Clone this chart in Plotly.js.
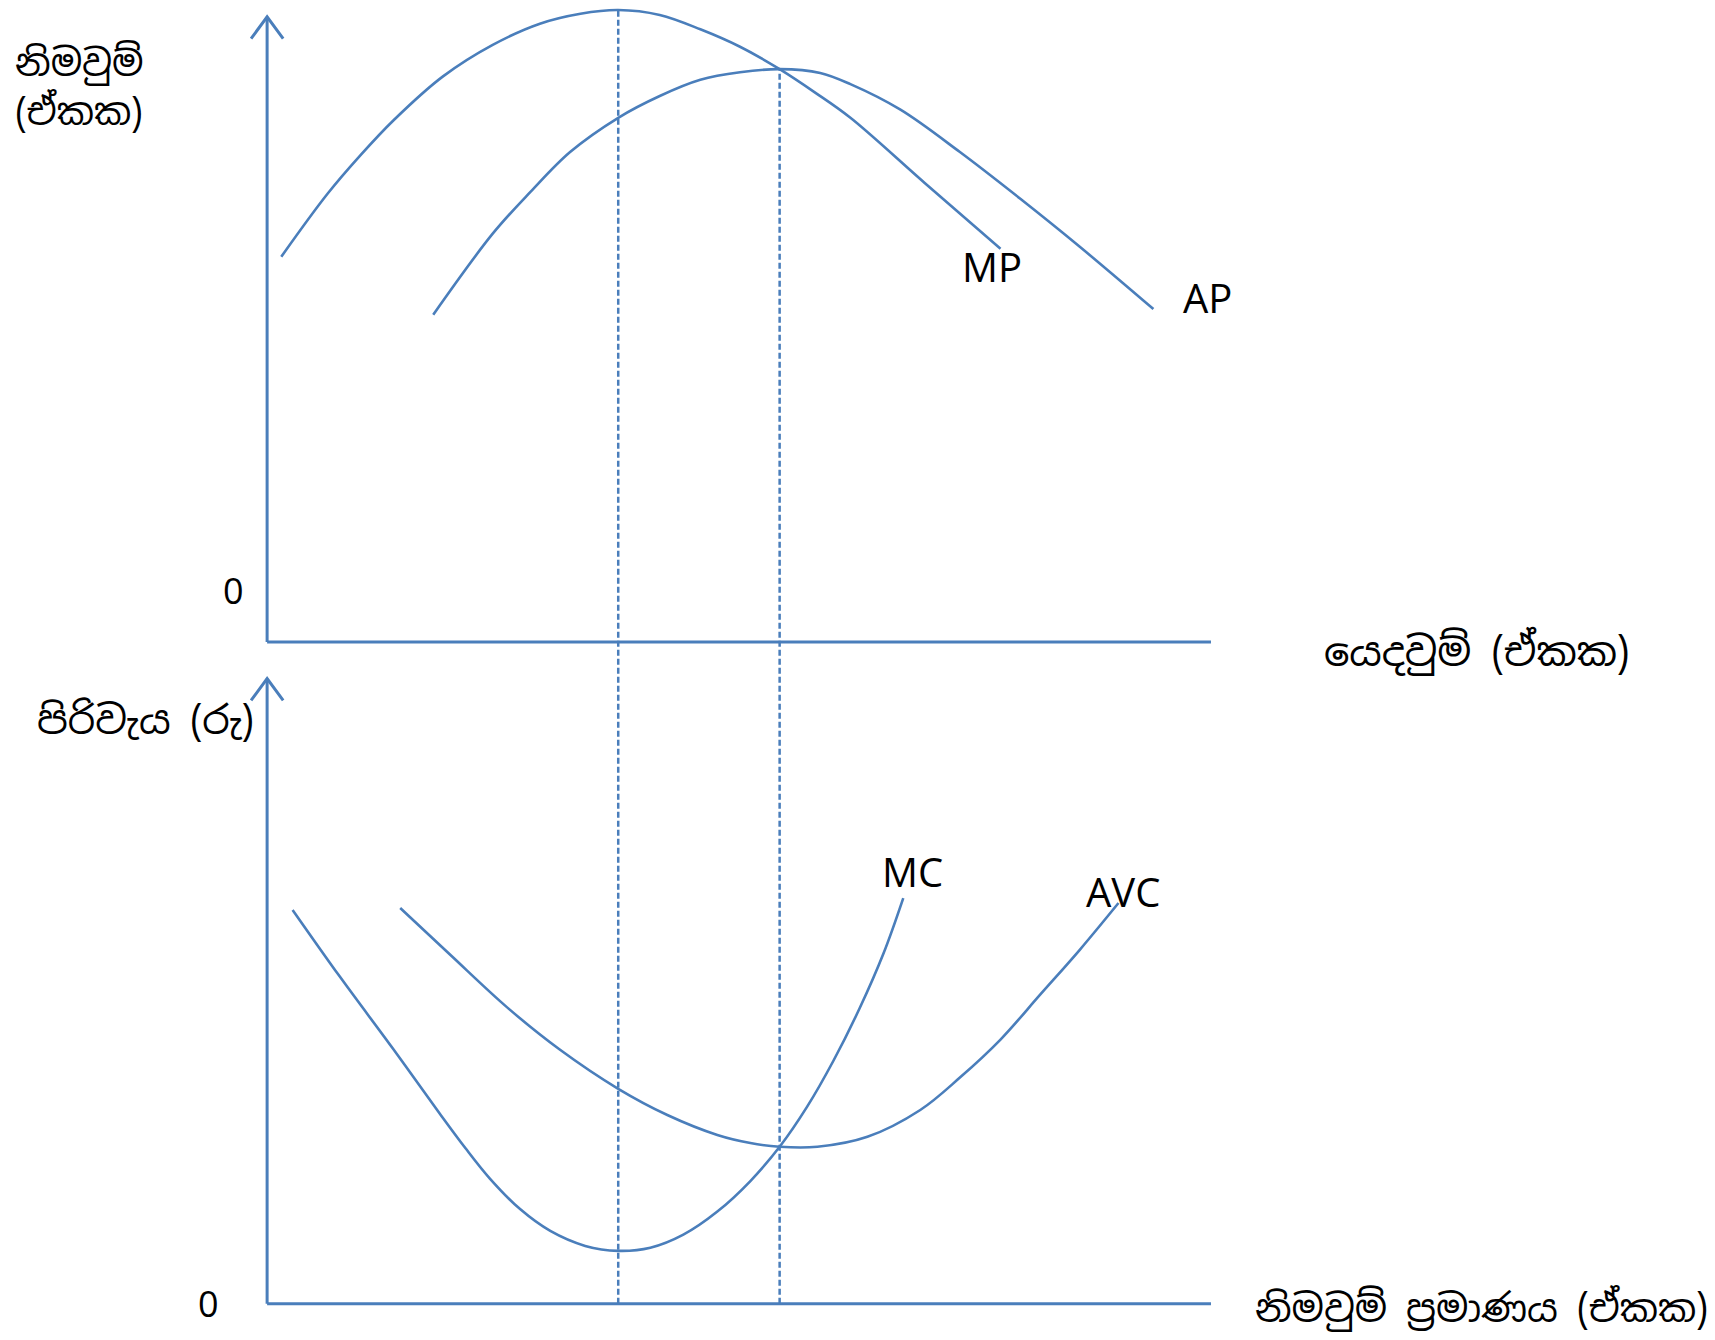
<!DOCTYPE html>
<html>
<head>
<meta charset="utf-8">
<script src="https://cdn.plot.ly/plotly-3.0.1.min.js"></script>
<style>
  html, body { margin: 0; padding: 0; background: #fff; }
  #plot { width: 1715px; height: 1340px; }
</style>
</head>
<body>
<div id="plot"></div>
<script>
// top panel: output (MP, AP) against input units
const mpX = [0.15, 0.64, 0.99, 1.34, 1.86, 2.39, 2.89, 3.32, 3.72, 4.16, 4.59, 5.01, 5.43, 5.81, 6.18, 6.97, 7.77];
const mpY = [6.18, 7.19, 7.81, 8.37, 9.07, 9.58, 9.92, 10.08, 10.14, 10.06, 9.83, 9.55, 9.19, 8.81, 8.41, 7.36, 6.31];
const apX = [1.76, 2.39, 2.79, 3.21, 3.72, 4.16, 4.59, 5.01, 5.43, 5.86, 6.18, 6.71, 7.34, 7.98, 8.61, 9.39];
const apY = [5.25, 6.55, 7.22, 7.86, 8.41, 8.76, 9.02, 9.14, 9.19, 9.13, 8.95, 8.54, 7.86, 7.11, 6.34, 5.34];

// bottom panel: cost (MC, AVC) against output quantity
const mcX = [0.27, 0.77, 1.34, 1.83, 2.10, 2.36, 2.68, 3.00, 3.37, 3.72, 4.06, 4.41, 4.77, 5.12, 5.43, 5.72, 6.00, 6.28, 6.53, 6.74];
const mcY = [6.32, 5.25, 4.08, 3.05, 2.50, 2.01, 1.52, 1.17, 0.93, 0.85, 0.90, 1.11, 1.48, 1.97, 2.52, 3.16, 3.90, 4.75, 5.62, 6.51];
const avcX = [1.41, 1.94, 2.54, 3.10, 3.72, 4.24, 4.77, 5.12, 5.43, 5.83, 6.36, 6.92, 7.34, 7.77, 8.19, 8.61, 9.02];
const avcY = [6.35, 5.60, 4.76, 4.08, 3.45, 3.03, 2.71, 2.58, 2.52, 2.52, 2.68, 3.11, 3.63, 4.24, 4.96, 5.68, 6.43];

// the two guide levels: MP peak and MP = AP
const guideX = [3.72, 5.43];
const guideTopY = [10.14, 9.19];

const curveLabels = [
    { text: 'MP', x: 7.68, y: 6.02, ref: 'y' },
    { text: 'AP', x: 9.96, y: 5.52, ref: 'y' },
    { text: 'MC', x: 6.84, y: 6.93, ref: 'y2' },
    { text: 'AVC', x: 9.07, y: 6.61, ref: 'y2' }
];

const blue = '#4a7ebb';
const sinhalaFont = '"Noto Sans Sinhala", "Iskoola Pota", "Noto Sans", sans-serif';
const latinFont = '"Open Sans", Lato, sans-serif';

const xRange = [-2.83, 15.34];
const yTopRange = [-0.29, 10.3];
const yTopDomain = [0.5075, 1];
const yBotRange = [-0.58, 10.33];
const yBotDomain = [0, 0.5075];

function curve(x, y, yaxis) {
    return {
        x: x, y: y, xaxis: yaxis === 'y' ? 'x' : 'x2', yaxis: yaxis,
        mode: 'lines', type: 'scatter', hoverinfo: 'skip',
        line: { color: blue, width: 2.6, shape: 'spline', smoothing: 1 }
    };
}

const traces = [
    curve(mpX, mpY, 'y'),
    curve(apX, apY, 'y'),
    curve(mcX, mcY, 'y2'),
    curve(avcX, avcY, 'y2')
];

// convert a data value on an axis to a paper fraction
function toPaper(v, range, domain) {
    return domain[0] + (v - range[0]) / (range[1] - range[0]) * (domain[1] - domain[0]);
}

const shapes = [];
// axis lines with open arrowheads
[['x', 'y'], ['x2', 'y2']].forEach(function (ax) {
    const lineStyle = { color: blue, width: 3 };
    shapes.push({ type: 'line', xref: ax[0], yref: ax[1], x0: 0, y0: 0, x1: 10, y1: 0, line: lineStyle });
    shapes.push({ type: 'line', xref: ax[0], yref: ax[1], x0: 0, y0: 0, x1: 0, y1: 10.03, line: lineStyle });
    shapes.push({ type: 'path', xref: ax[0], yref: ax[1], path: 'M -0.17,9.68 L 0,10.03 L 0.17,9.68', line: lineStyle });
});
// dashed guides from the top curve down to the bottom axis
guideX.forEach(function (gx, i) {
    shapes.push({
        type: 'line', xref: 'x', yref: 'paper',
        x0: gx, x1: gx,
        y0: toPaper(0, yBotRange, yBotDomain),
        y1: toPaper(guideTopY[i], yTopRange, yTopDomain),
        line: { color: blue, width: 2.5, dash: '6px,3px' }
    });
});

const annotations = [];
curveLabels.forEach(function (l) {
    annotations.push({
        text: l.text, x: l.x, y: l.y, xref: l.ref === 'y' ? 'x' : 'x2', yref: l.ref,
        showarrow: false, xanchor: 'center', yanchor: 'middle',
        font: { family: latinFont, size: 40, color: '#000' }
    });
});
// zero labels at the origins
annotations.push({ text: '0', x: -0.36, y: 0.82, xref: 'x', yref: 'y', showarrow: false,
    font: { family: latinFont, size: 36, color: '#000' } });
annotations.push({ text: '0', x: -0.62, y: 0, xref: 'x2', yref: 'y2', showarrow: false,
    font: { family: latinFont, size: 36, color: '#000' } });

// axis titles (Sinhala)
const titles = [
    { text: 'නිමවුම්', px: 13, py: 63, size: 37 },
    { text: '(ඒකක)', px: 13, py: 112, size: 37 },
    { text: 'යෙදවුම් (ඒකක)', px: 1322, py: 652, size: 40 },
    { text: 'පිරිවැය (රු)', px: 35, py: 720, size: 39 },
    { text: 'නිමවුම් ප්‍රමාණය (ඒකක)', px: 1253, py: 1308, size: 38 }
];
titles.forEach(function (t) {
    annotations.push({
        text: t.text, xref: 'paper', yref: 'paper',
        x: t.px / 1715, y: 1 - t.py / 1340,
        xanchor: 'left', yanchor: 'middle', showarrow: false,
        font: { family: sinhalaFont, size: t.size, color: '#000' }
    });
});

const hidden = { showgrid: false, zeroline: false, showline: false, showticklabels: false, ticks: '' };

const layout = {
    width: 1715, height: 1340,
    margin: { l: 0, r: 0, t: 0, b: 0 },
    paper_bgcolor: '#fff', plot_bgcolor: 'rgba(0,0,0,0)',
    showlegend: false,
    xaxis: Object.assign({ range: xRange, domain: [0, 1], anchor: 'y' }, hidden),
    xaxis2: Object.assign({ range: xRange, domain: [0, 1], anchor: 'y2', matches: 'x' }, hidden),
    yaxis: Object.assign({ range: yTopRange, domain: yTopDomain, anchor: 'x' }, hidden),
    yaxis2: Object.assign({ range: yBotRange, domain: yBotDomain, anchor: 'x2' }, hidden),
    shapes: shapes,
    annotations: annotations
};

Plotly.newPlot('plot', traces, layout, { staticPlot: true });
</script>
</body>
</html>
